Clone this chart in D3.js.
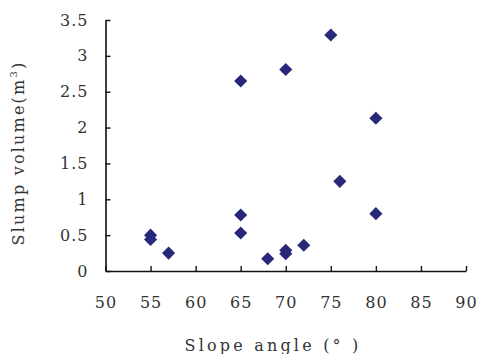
<!DOCTYPE html>
<html>
<head>
<meta charset="utf-8">
<script src="https://cdn.jsdelivr.net/npm/d3@7"></script>
<style>
  body { margin: 0; background: #fff; }
  text { font-family: "DejaVu Serif", serif; fill: #333; }
</style>
</head>
<body>
<div id="chart"></div>
<script>
// slope angle (deg) vs slump volume (m3)
var slopeAngle = [55, 55, 57, 65, 65, 65, 68, 70, 70, 70, 72, 75, 76, 80, 80];
var slumpVolume = [0.5, 0.44, 0.25, 2.65, 0.78, 0.53, 0.17, 2.81, 0.29, 0.24, 0.36, 3.29, 1.25, 2.13, 0.8];
var xTicks = [50, 55, 60, 65, 70, 75, 80, 85, 90];
var yTicks = [0, 0.5, 1, 1.5, 2, 2.5, 3, 3.5];

var W = 478, H = 354;
var margin = {top: 20, right: 12, bottom: 83, left: 105.5};
var w = W - margin.left - margin.right,
    h = H - margin.top - margin.bottom;

var x = d3.scaleLinear().domain([50, 90]).range([0, w]);
var y = d3.scaleLinear().domain([0, 3.5]).range([h, 0]);

var svg = d3.select("#chart").append("svg")
    .attr("width", W).attr("height", H);
var g = svg.append("g")
    .attr("transform", "translate(" + margin.left + "," + margin.top + ")");

//axes - ticks point inward
var xAxis = d3.axisBottom(x).tickValues(xTicks).tickSizeInner(-5).tickSizeOuter(0).tickPadding(26);
var yAxis = d3.axisLeft(y).tickValues(yTicks).tickSizeInner(-5).tickSizeOuter(0).tickPadding(17)
    .tickFormat(function(d) { return String(d); });

var gx = g.append("g").attr("transform", "translate(0," + h + ")").call(xAxis);
var gy = g.append("g").call(yAxis);

[gx, gy].forEach(function(a) {
  a.select(".domain").attr("stroke", "#111").attr("stroke-width", 1.6);
  a.selectAll(".tick line").attr("stroke", "#111").attr("stroke-width", 1.4);
  a.selectAll(".tick text").style("font-family", "'DejaVu Serif', serif")
    .style("font-size", "16px").attr("fill", "#333").attr("letter-spacing", "1px");
});

//points
g.selectAll("path.pt")
  .data(slopeAngle.map(function(a, i) { return [a, slumpVolume[i]]; }))
  .enter().append("path")
    .attr("class", "pt")
    .attr("d", d3.symbol().type(d3.symbolSquare).size(86))
    .attr("fill", "#28287a")
    .attr("transform", function(d) { return "translate(" + x(d[0]) + "," + y(d[1]) + ") rotate(45)"; });

//axis titles
svg.append("text")
  .attr("x", 273).attr("y", 351)
  .attr("text-anchor", "middle")
  .style("font-size", "16px").attr("letter-spacing", "3.2px")
  .text("Slope angle (° )");

var yt = svg.append("text")
  .attr("transform", "translate(24,153) rotate(-90)")
  .attr("text-anchor", "middle")
  .style("font-size", "16px").attr("letter-spacing", "2.2px");
yt.append("tspan").text("Slump volume(m");
yt.append("tspan").attr("dy", -7).style("font-size", "10px").text("3");
yt.append("tspan").attr("dy", 7).text(")");
</script>
</body>
</html>
